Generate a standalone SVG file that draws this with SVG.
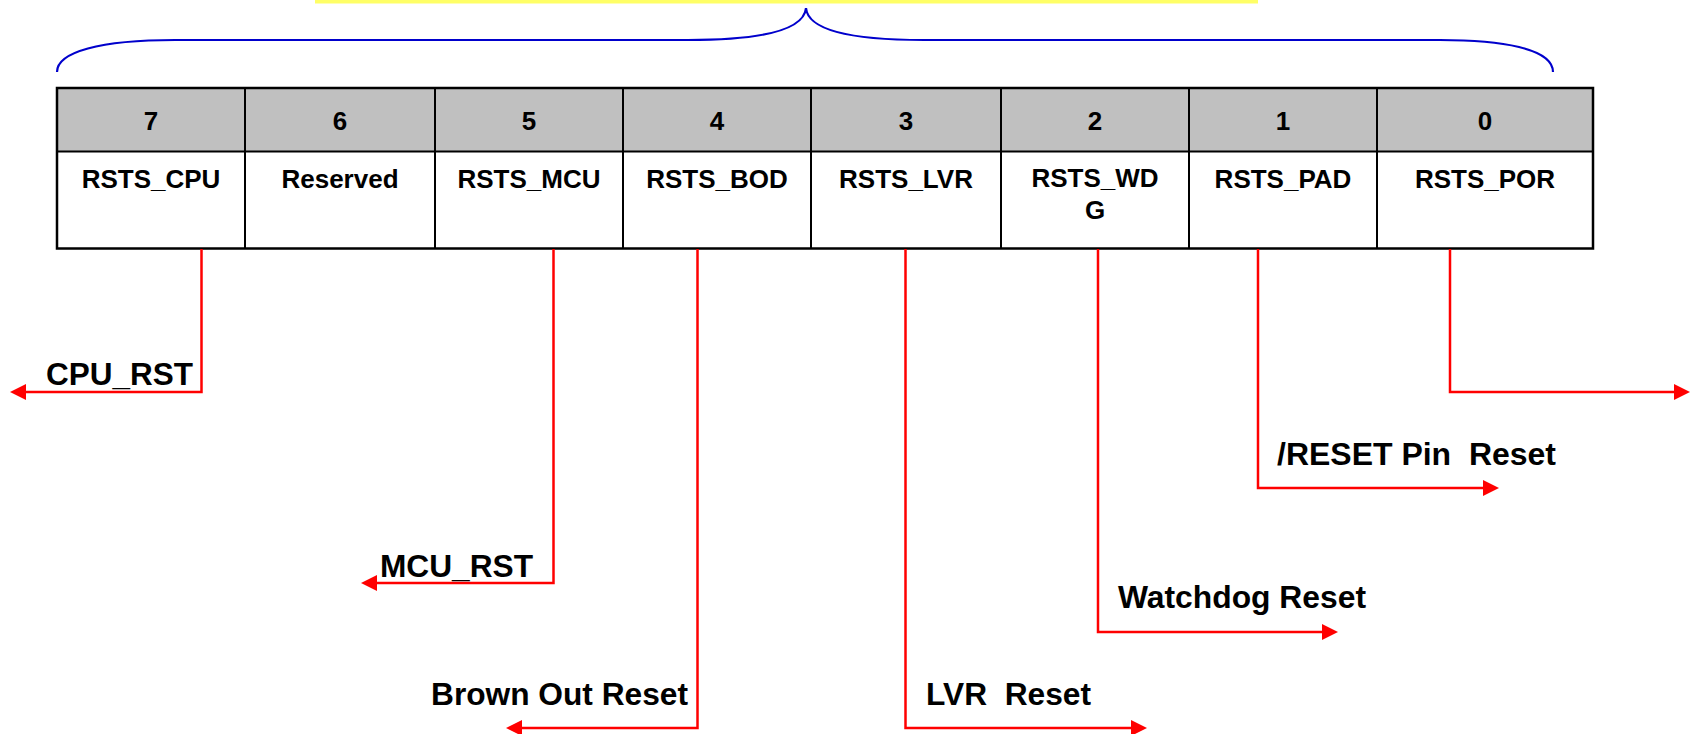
<svg xmlns="http://www.w3.org/2000/svg" width="1694" height="734" viewBox="0 0 1694 734">
  <style>
    .hdr { fill: #c0c0c0; stroke: none; }
    .cell { fill: #ffffff; stroke: none; }
    .grid { fill: none; stroke: #000000; stroke-width: 2; }
    .frame { fill: none; stroke: #000000; stroke-width: 2.5; }
    .bit { font-family: "Liberation Sans", Arial, sans-serif; font-weight: bold; font-size: 26px; fill: #000000; text-anchor: middle; }
    .sig { font-family: "Liberation Sans", Arial, sans-serif; font-weight: bold; font-size: 31px; fill: #000000; white-space: pre; }
    .wire { fill: none; stroke: #ff0000; stroke-width: 2.5; }
    .brace { fill: none; stroke: #0000cc; stroke-width: 2.2; }
  </style>
  <defs>
    <marker id="arrow" markerUnits="userSpaceOnUse" markerWidth="16" markerHeight="16" viewBox="0 0 15 15" refX="0" refY="7.5" orient="auto">
      <path d="M0,0 L15,7.5 L0,15 Z" fill="#ff0000"/>
    </marker>
  </defs>

  <rect width="1694" height="734" fill="#ffffff"/>

  <!-- highlight strip at the top edge -->
  <rect id="highlight" x="315" y="0" width="943" height="3.5" fill="#ffff66"/>

  <!-- curly brace spanning the register -->
  <path id="brace" class="brace" d="M57,72 C57,52 100,40 175,40 L688,40 C762,40 804,30 806,8 C808,30 850,40 924,40 L1440,40 C1500,40 1553,48 1553,72"/>

  <!-- register: header row (bit numbers) and name row -->
  <g id="register">
    <rect class="hdr" x="57" y="88" width="1536" height="63.5"/>
    <rect class="cell" x="57" y="151.5" width="1536" height="97"/>
    <g class="grid">
      <line x1="57" y1="151.5" x2="1593" y2="151.5"/>
      <line x1="245" y1="88" x2="245" y2="248.5"/>
      <line x1="435" y1="88" x2="435" y2="248.5"/>
      <line x1="623" y1="88" x2="623" y2="248.5"/>
      <line x1="811" y1="88" x2="811" y2="248.5"/>
      <line x1="1001" y1="88" x2="1001" y2="248.5"/>
      <line x1="1189" y1="88" x2="1189" y2="248.5"/>
      <line x1="1377" y1="88" x2="1377" y2="248.5"/>
    </g>
    <rect class="frame" x="57" y="88" width="1536" height="160.5"/>
  </g>

  <g id="bit7"><text class="bit" x="151" y="130">7</text><text class="bit" x="151" y="188">RSTS_CPU</text></g>
  <g id="bit6"><text class="bit" x="340" y="130">6</text><text class="bit" x="340" y="188">Reserved</text></g>
  <g id="bit5"><text class="bit" x="529" y="130">5</text><text class="bit" x="529" y="188">RSTS_MCU</text></g>
  <g id="bit4"><text class="bit" x="717" y="130">4</text><text class="bit" x="717" y="188">RSTS_BOD</text></g>
  <g id="bit3"><text class="bit" x="906" y="130">3</text><text class="bit" x="906" y="188">RSTS_LVR</text></g>
  <g id="bit2"><text class="bit" x="1095" y="130">2</text><text class="bit" x="1095" y="187">RSTS_WD</text><text class="bit" x="1095" y="219">G</text></g>
  <g id="bit1"><text class="bit" x="1283" y="130">1</text><text class="bit" x="1283" y="188">RSTS_PAD</text></g>
  <g id="bit0"><text class="bit" x="1485" y="130">0</text><text class="bit" x="1485" y="188">RSTS_POR</text></g>

  <!-- reset source connectors -->
  <g id="connectors">
    <path class="wire" marker-end="url(#arrow)" d="M201.5,249 V392 H26"/>
    <path class="wire" marker-end="url(#arrow)" d="M553.5,249 V583 H377"/>
    <path class="wire" marker-end="url(#arrow)" d="M697.5,249 V728 H522"/>
    <path class="wire" marker-end="url(#arrow)" d="M905.5,249 V728 H1131"/>
    <path class="wire" marker-end="url(#arrow)" d="M1098,249 V632 H1322"/>
    <path class="wire" marker-end="url(#arrow)" d="M1258,249 V488 H1483"/>
    <path class="wire" marker-end="url(#arrow)" d="M1450,249 V392 H1674"/>
  </g>

  <!-- reset source labels -->
  <g id="labels">
    <text id="lbl-cpu" class="sig" x="46" y="385" textLength="147" lengthAdjust="spacingAndGlyphs">CPU_RST</text>
    <text id="lbl-mcu" class="sig" x="380" y="577" textLength="153" lengthAdjust="spacingAndGlyphs">MCU_RST</text>
    <text id="lbl-bod" class="sig" x="431" y="705" textLength="257" lengthAdjust="spacingAndGlyphs">Brown Out Reset</text>
    <text id="lbl-lvr" class="sig" x="926" y="705" textLength="165" lengthAdjust="spacingAndGlyphs" xml:space="preserve">LVR  Reset</text>
    <text id="lbl-wdg" class="sig" x="1118" y="608" textLength="248" lengthAdjust="spacingAndGlyphs">Watchdog Reset</text>
    <text id="lbl-pad" class="sig" x="1277" y="465" textLength="279" lengthAdjust="spacingAndGlyphs" xml:space="preserve">/RESET Pin  Reset</text>
  </g>
</svg>
